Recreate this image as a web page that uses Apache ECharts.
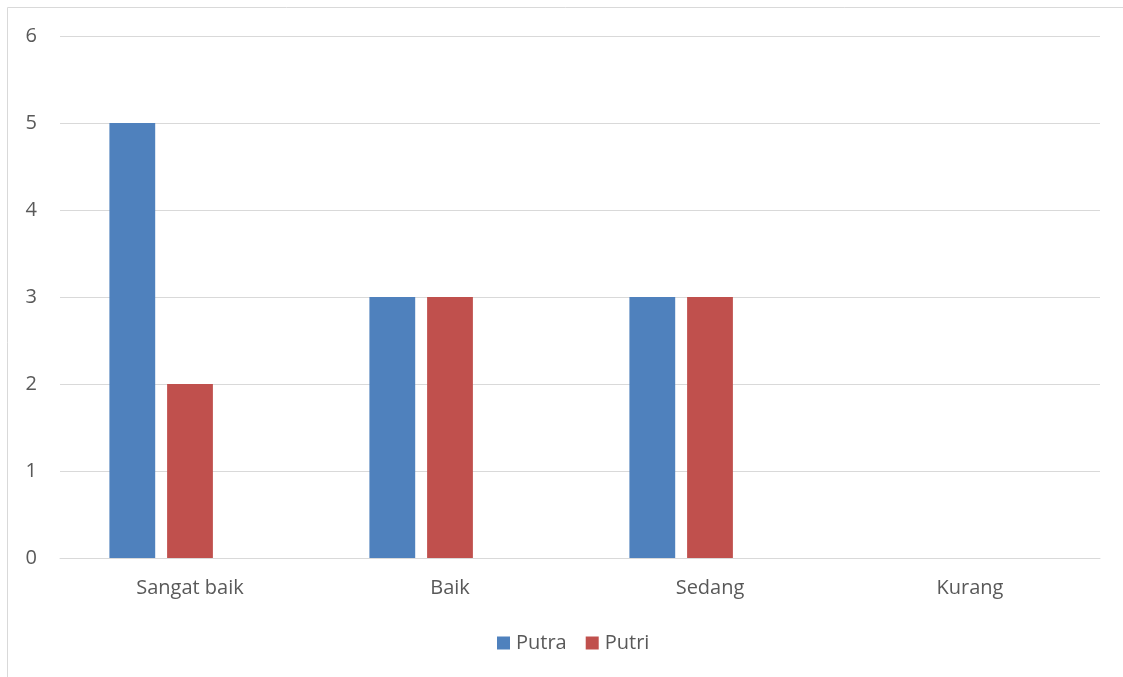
<!DOCTYPE html>
<html>
<head>
<meta charset="utf-8">
<script src="https://cdn.jsdelivr.net/npm/echarts@6/dist/echarts.min.js"></script>
<style>
html, body { margin: 0; padding: 0; background: #fff; }
#chart { width: 1123px; height: 677px; }
</style>
</head>
<body>
<div id="chart"></div>
<script>
// kategori dan nilai
var categories = ["Sangat baik", "Baik", "Sedang", "Kurang"];
var putra = [5, 3, 3, null];
var putri = [2, 3, 3, null];
// seri ketiga kosong (Excel menyisakan tempatnya)
var kosong = [null, null, null, null];
var yTicks = [0, 1, 2, 3, 4, 5, 6];

var myChart = echarts.init(document.getElementById("chart"));
var font = "'Open Sans', 'Noto Sans', sans-serif";
var option = {
    animation: false,
    textStyle: { fontFamily: font },
    graphic: [{
        type: "rect",
        shape: { x: 7.5, y: 7.5, width: 1300, height: 900 },
        style: { fill: "none", stroke: "#d9d9d9", lineWidth: 1 }
    }],
    grid: { left: 60, right: 23, top: 36, bottom: 119 },
    legend: {
        data: ["Putra", "Putri"],
        top: 628,
        left: 492,
        itemWidth: 13,
        itemHeight: 13,
        itemGap: 19,
        icon: "rect",
        textStyle: { fontSize: 20, color: "#595959", fontFamily: font, padding: [0, 0, 0, 1] }
    },
    xAxis: {
        type: "category",
        data: categories,
        axisLine: { lineStyle: { color: "#d9d9d9", width: 1 } },
        axisTick: { show: false },
        axisLabel: { fontSize: 20, color: "#595959", margin: 20, fontFamily: font }
    },
    yAxis: {
        type: "value",
        min: yTicks[0],
        max: yTicks[yTicks.length - 1],
        interval: 1,
        axisLine: { show: false },
        axisTick: { show: false },
        splitLine: { lineStyle: { color: "#d9d9d9", width: 1 } },
        axisLabel: { fontSize: 20, color: "#595959", margin: 23, fontFamily: font }
    },
    series: [
        { name: "Putra", type: "bar", data: putra, itemStyle: { color: "#4f81bd" },
          barGap: "26%", barCategoryGap: "38%" },
        { name: "Putri", type: "bar", data: putri, itemStyle: { color: "#c0504d" } },
        { name: "", type: "bar", data: kosong }
    ]
};
myChart.setOption(option);
</script>
</body>
</html>
